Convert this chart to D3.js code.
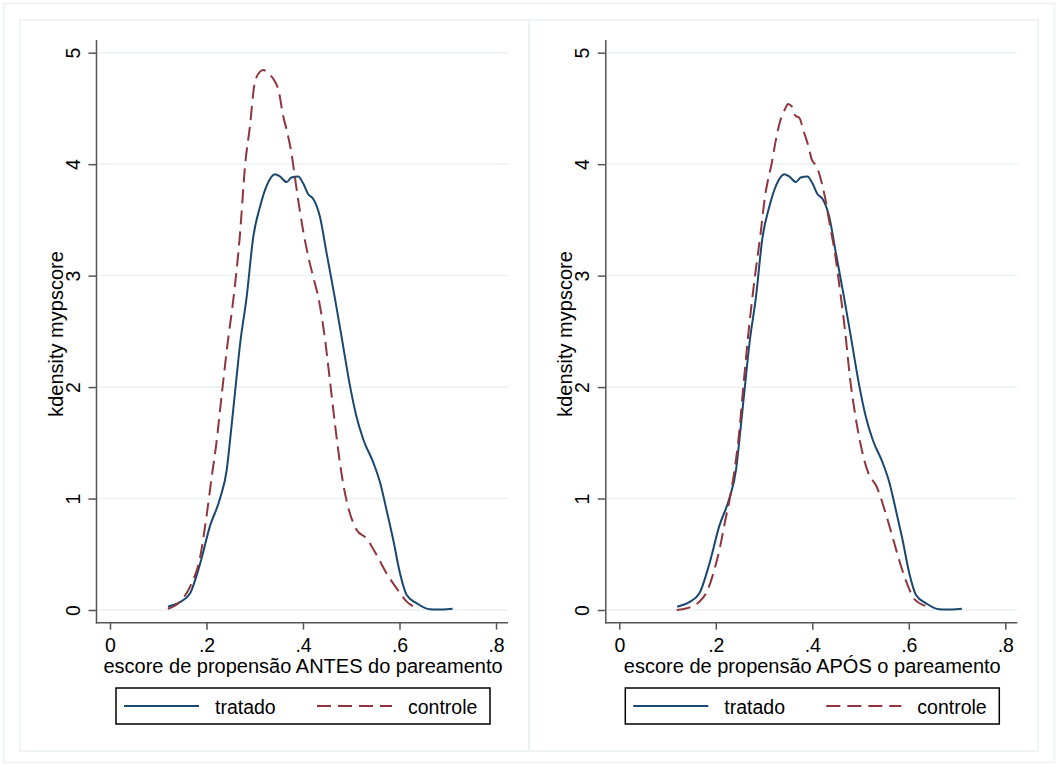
<!DOCTYPE html>
<html>
<head>
<meta charset="utf-8">
<script src="https://cdn.jsdelivr.net/npm/d3@7"></script>
<style>
  body { margin: 0; background: #fff; }
  svg text { font-family: "Liberation Sans", Arial, Helvetica, sans-serif; fill: #000; }
</style>
</head>
<body>
<svg id="chart" width="1061" height="767"></svg>
<script>
const X_TICKS = [0, 0.2, 0.4, 0.6, 0.8];
const Y_TICKS = [0, 1, 2, 3, 4, 5];
const SERIES_NAMES = ['tratado', 'controle'];
const Y_TITLE = 'kdensity mypscore';
const X_TITLES = ['escore de propensão ANTES do pareamento', 'escore de propensão APÓS o pareamento'];

// kdensity of treated group (same before and after matching)
const tratado = [
  [0.120, 0.03], [0.145, 0.07], [0.166, 0.15], [0.187, 0.42], [0.207, 0.75], [0.228, 1.00],
  [0.242, 1.26], [0.249, 1.53], [0.259, 1.95], [0.270, 2.40], [0.283, 2.80], [0.297, 3.35],
  [0.311, 3.62], [0.325, 3.81], [0.342, 3.91], [0.352, 3.89], [0.366, 3.84], [0.376, 3.88],
  [0.390, 3.89], [0.400, 3.83], [0.411, 3.73], [0.421, 3.69], [0.435, 3.53], [0.449, 3.20],
  [0.466, 2.80], [0.480, 2.45], [0.497, 2.02], [0.510, 1.75], [0.525, 1.53], [0.546, 1.32],
  [0.560, 1.14], [0.573, 0.90], [0.587, 0.63], [0.601, 0.33], [0.615, 0.135], [0.636, 0.06],
  [0.663, 0.006], [0.690, 0.005], [0.710, 0.012]
];

// control group before matching
const controleAntes = [
  [0.120, 0.01], [0.145, 0.075], [0.166, 0.21], [0.187, 0.48], [0.200, 0.84], [0.211, 1.20],
  [0.220, 1.48], [0.232, 1.95], [0.244, 2.40], [0.256, 2.80], [0.269, 3.35], [0.280, 3.99],
  [0.290, 4.34], [0.300, 4.73], [0.311, 4.83], [0.318, 4.845], [0.328, 4.815], [0.342, 4.74],
  [0.349, 4.67], [0.359, 4.43], [0.366, 4.31], [0.376, 4.10], [0.383, 3.89], [0.390, 3.68],
  [0.400, 3.41], [0.411, 3.17], [0.421, 2.99], [0.432, 2.80], [0.445, 2.45], [0.456, 2.05],
  [0.464, 1.75], [0.471, 1.50], [0.483, 1.14], [0.497, 0.87], [0.511, 0.72], [0.532, 0.64],
  [0.553, 0.49], [0.573, 0.33], [0.594, 0.195], [0.615, 0.075], [0.639, 0.01]
];

// control group after matching
const controleApos = [
  [0.119, 0.00], [0.140, 0.015], [0.164, 0.066], [0.181, 0.16], [0.195, 0.33], [0.209, 0.57],
  [0.219, 0.79], [0.229, 1.00], [0.240, 1.29], [0.247, 1.53], [0.257, 2.00], [0.268, 2.50],
  [0.281, 2.99], [0.292, 3.35], [0.302, 3.71], [0.316, 4.01], [0.326, 4.25], [0.333, 4.38],
  [0.343, 4.49], [0.350, 4.54], [0.357, 4.52], [0.364, 4.44], [0.374, 4.41], [0.381, 4.31],
  [0.392, 4.16], [0.399, 4.04], [0.409, 3.98], [0.416, 3.89], [0.426, 3.71], [0.437, 3.44],
  [0.447, 3.20], [0.454, 2.98], [0.468, 2.50], [0.479, 2.05], [0.489, 1.75], [0.498, 1.53],
  [0.516, 1.23], [0.533, 1.11], [0.554, 0.84], [0.568, 0.63], [0.582, 0.42], [0.596, 0.24],
  [0.613, 0.09], [0.637, 0.03], [0.645, 0.01]
];

const BLUE = '#1a476f';
const RED = '#90353b';
const GRID = '#eaf2f3';
const TICK_FONT = 19.5;
const TITLE_FONT = 20;
const LEGEND_FONT = 19.5;

const svg = d3.select('#chart');

svg.append('rect')
  .attr('x', 3.5).attr('y', 3.5).attr('width', 1051).attr('height', 759)
  .attr('fill', '#fff').attr('stroke', GRID).attr('stroke-width', 1.5);

const fmt = d => (d === 0 ? '0' : String(d).replace(/^0/, ''));

const drawPanel = (offset, treated, control, xTitle) => {
  const g = svg.append('g').attr('transform', `translate(${offset},0)`);

  g.append('rect')
    .attr('x', 20).attr('y', 20).attr('width', 509).attr('height', 731)
    .attr('fill', 'none').attr('stroke', GRID).attr('stroke-width', 1.5);

  const x = d3.scaleLinear().domain([0, 0.8]).range([110, 496]);
  const y = d3.scaleLinear().domain([0, 5]).range([610, 52.7]);
  const left = 96.5;
  const right = 508;
  const bottom = 622.7;

  // gridlines
  g.append('g').selectAll('line')
    .data(Y_TICKS)
    .join('line')
    .attr('x1', left + 1).attr('x2', right)
    .attr('y1', d => y(d)).attr('y2', d => y(d))
    .attr('stroke', GRID).attr('stroke-width', 1.5);

  // y axis
  const yAxis = g.append('g').attr('transform', `translate(${left},0)`)
    .call(d3.axisLeft(y).tickValues(Y_TICKS).tickFormat(fmt).tickSize(8).tickPadding(0));
  yAxis.select('.domain').remove();
  yAxis.selectAll('.tick line').attr('stroke', '#555').attr('stroke-width', 1.5);
  yAxis.selectAll('.tick text')
    .attr('font-size', TICK_FONT)
    .attr('x', null).attr('dy', null)
    .attr('text-anchor', 'middle')
    .attr('transform', 'translate(-16.5,0) rotate(-90)');

  // x axis
  const xAxis = g.append('g').attr('transform', `translate(0,${bottom})`)
    .call(d3.axisBottom(x).tickValues(X_TICKS).tickFormat(fmt).tickSize(7));
  xAxis.select('.domain').remove();
  xAxis.selectAll('.tick line').attr('stroke', '#555').attr('stroke-width', 1.5);
  xAxis.selectAll('.tick text').attr('font-size', TICK_FONT).attr('y', 29.3).attr('dy', null);

  g.append('line')
    .attr('x1', left).attr('x2', left).attr('y1', 40).attr('y2', bottom + 0.75)
    .attr('stroke', '#555').attr('stroke-width', 1.5);
  g.append('line')
    .attr('x1', left - 0.75).attr('x2', right).attr('y1', bottom).attr('y2', bottom)
    .attr('stroke', '#555').attr('stroke-width', 1.5);

  // titles
  g.append('text')
    .attr('transform', 'translate(63,334) rotate(-90)')
    .attr('text-anchor', 'middle')
    .attr('font-size', TITLE_FONT)
    .text(Y_TITLE);
  g.append('text')
    .attr('x', (104 + 502) / 2).attr('y', 673)
    .attr('text-anchor', 'middle')
    .attr('font-size', TITLE_FONT)
    .text(xTitle);

  // curves
  const line = d3.line().x(d => x(d[0])).y(d => y(d[1])).curve(d3.curveMonotoneX);
  g.append('path').datum(treated)
    .attr('d', line).attr('fill', 'none')
    .attr('stroke', BLUE).attr('stroke-width', 2);
  g.append('path').datum(control)
    .attr('d', line).attr('fill', 'none')
    .attr('stroke', RED).attr('stroke-width', 2)
    .attr('stroke-dasharray', '14 7');

  // legend
  const lg = g.append('g');
  lg.append('rect')
    .attr('x', 116).attr('y', 688).attr('width', 374).attr('height', 36)
    .attr('fill', '#fff').attr('stroke', '#000').attr('stroke-width', 1.5);
  lg.append('line')
    .attr('x1', 124).attr('x2', 199).attr('y1', 706).attr('y2', 706)
    .attr('stroke', BLUE).attr('stroke-width', 2);
  lg.append('text').attr('x', 215).attr('y', 714).attr('font-size', LEGEND_FONT).text(SERIES_NAMES[0]);
  lg.append('line')
    .attr('x1', 317).attr('x2', 392).attr('y1', 706).attr('y2', 706)
    .attr('stroke', RED).attr('stroke-width', 2)
    .attr('stroke-dasharray', '14 7');
  lg.append('text').attr('x', 408).attr('y', 714).attr('font-size', LEGEND_FONT).text(SERIES_NAMES[1]);
};

drawPanel(0, tratado, controleAntes, X_TITLES[0]);
drawPanel(509.3, tratado, controleApos, X_TITLES[1]);
</script>
</body>
</html>
